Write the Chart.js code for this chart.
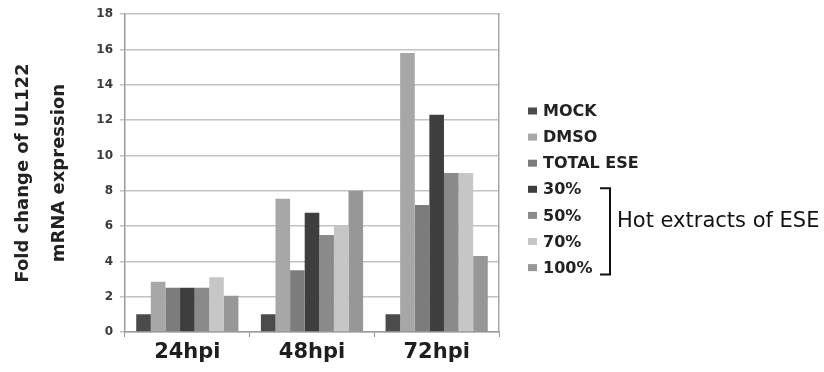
<!DOCTYPE html>
<html>
<head>
<meta charset="utf-8">
<script src="https://cdn.jsdelivr.net/npm/chart.js@4"></script>
<style>
html,body{margin:0;padding:0;background:#fff;}
#wrap{width:824px;height:372px;}
</style>
</head>
<body>
<div id="wrap"><canvas id="c" width="824" height="372"></canvas></div>
<script>
const categories = ['24hpi', '48hpi', '72hpi'];
const seriesNames = ['MOCK', 'DMSO', 'TOTAL ESE', '30%', '50%', '70%', '100%'];
const mock     = [1, 1, 1];
const dmso     = [2.85, 7.55, 15.8];
const totalEse = [2.5, 3.5, 7.2];
const hot30    = [2.5, 6.75, 12.3];
const hot50    = [2.5, 5.5, 9.0];
const hot70    = [3.1, 6.0, 9.0];
const hot100   = [2.05, 8.0, 4.3];
const yTicks   = [0, 2, 4, 6, 8, 10, 12, 14, 16, 18];
const bracketLabel = 'Hot extracts of ESE';
const bracketFrom = 3, bracketTo = 6;

const colors = ['#4b4b4b', '#a7a7a7', '#7c7c7c', '#3e3e3e', '#8a8a8a', '#c6c6c6', '#979797'];
const values = [mock, dmso, totalEse, hot30, hot50, hot70, hot100];

const datasets = seriesNames.map((n, i) => ({
  label: n,
  data: values[i],
  backgroundColor: colors[i],
  borderWidth: 0,
  categoryPercentage: 0.82,
  barPercentage: 1.0
}));

const legendPlugin = {
  id: 'customLegend',
  afterDraw(chart) {
    const ctx = chart.ctx;
    const x0 = chart.chartArea.right + 29;
    const y0 = 111, step = 26.1;
    ctx.save();
    ctx.textBaseline = 'middle';
    ctx.textAlign = 'left';
    ctx.font = 'bold 16px "DejaVu Sans"';
    chart.data.datasets.forEach((ds, i) => {
      const y = y0 + i * step;
      ctx.fillStyle = ds.backgroundColor;
      ctx.fillRect(x0, y - 3.5, 9, 7);
      ctx.fillStyle = '#222';
      ctx.fillText(ds.label, x0 + 15, y + 1);
    });
    // bracket
    const bx = x0 + 82;
    const yTop = y0 + bracketFrom * step - 1;
    const yBot = y0 + bracketTo * step + 7;
    ctx.strokeStyle = '#111';
    ctx.lineWidth = 2;
    ctx.beginPath();
    ctx.moveTo(bx - 10, yTop);
    ctx.lineTo(bx, yTop);
    ctx.lineTo(bx, yBot);
    ctx.lineTo(bx - 10, yBot);
    ctx.stroke();
    ctx.font = '21px "DejaVu Sans"';
    ctx.fillStyle = '#111';
    ctx.fillText(bracketLabel, bx + 7, (yTop + yBot) / 2 - 10);
    ctx.restore();
  }
};

new Chart(document.getElementById('c'), {
  type: 'bar',
  data: { labels: categories, datasets },
  options: {
    responsive: false,
    animation: false,
    devicePixelRatio: 1,
    layout: { padding: { top: 7, right: 325, bottom: 0, left: 0 } },
    plugins: {
      legend: { display: false },
      tooltip: { enabled: false }
    },
    scales: {
      x: {
        grid: { display: true, drawOnChartArea: false, drawTicks: true, tickLength: 5, color: '#9a9a9a', offset: true },
        border: { display: true, color: '#9a9a9a', width: 1.5 },
        ticks: { color: '#1e1e1e', font: { family: 'DejaVu Sans', size: 21, weight: 'bold' }, padding: 3 },
        afterFit(s) { s.height = 40; }
      },
      y: {
        min: 0, max: 18,
        afterBuildTicks(s) { s.ticks = yTicks.map(v => ({ value: v })); },
        grid: { color: '#c2c2c2', lineWidth: 1.5, tickLength: 5, drawTicks: true },
        border: { display: true, color: '#9a9a9a', width: 1.5 },
        ticks: { color: '#3a3a3a', font: { family: 'DejaVu Sans', size: 12, weight: 'bold' }, padding: 7 },
        title: {
          display: true,
          text: ['Fold change of UL122', 'mRNA expression'],
          color: '#222',
          font: { family: 'DejaVu Sans', size: 18, weight: 'bold', lineHeight: 2.0 },
          padding: { top: 5, bottom: 0 }
        },
        afterFit(s) { s.width = 125; }
      },
      y2: {
        position: 'right',
        min: 0, max: 18,
        grid: { display: false },
        border: { display: true, color: '#a8a8a8', width: 1.5 },
        ticks: { display: false },
        afterFit(s) { s.width = 0; }
      }
    }
  },
  plugins: [legendPlugin]
});
</script>
</body>
</html>
